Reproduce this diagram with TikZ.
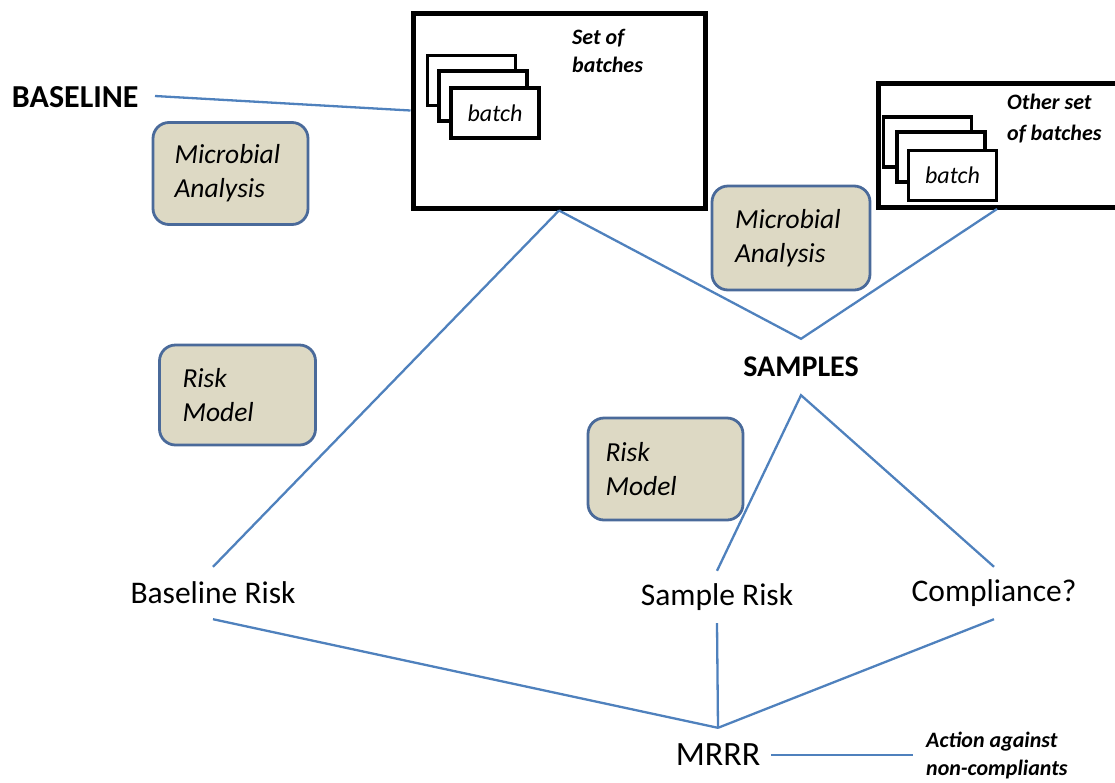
\documentclass[tikz,border=0pt]{standalone}
\usepackage{fontspec}
\setmainfont{Carlito}
\definecolor{linkblue}{HTML}{4F81BD}
\definecolor{stepfill}{HTML}{DDD9C4}
\definecolor{stepedge}{HTML}{4A6A9A}
\begin{document}
\begin{tikzpicture}[x=1pt,y=-1pt,
  link/.style={draw=linkblue, line width=2.3pt},
  setbox/.style={draw=black, line width=5pt, fill=white, inner sep=0pt},
  batchbox/.style={draw=black, line width=3.6pt, fill=white, inner sep=0pt,
                   minimum width=88pt, minimum height=50pt},
  stepbox/.style={draw=stepedge, line width=2.8pt, fill=stepfill, rounded corners=16pt,
                  minimum width=155pt, minimum height=102pt, align=left,
                  font=\itshape\fontsize{27.5}{34}\selectfont},
  head/.style={inner sep=0pt, font=\bfseries\fontsize{32}{36}\selectfont},
  risklabel/.style={inner sep=0pt, minimum height=52pt, font=\fontsize{31.5}{36}\selectfont},
  note/.style={inner sep=0pt, align=left, font=\bfseries\itshape\fontsize{22}{28}\selectfont},
  batchtext/.style={inner sep=0pt, font=\itshape\fontsize{24}{28}\selectfont}
]
\useasboundingbox (0,0) rectangle (1115,782);
\clip (0,0) rectangle (1115,782);

% ---- text nodes
\node[head, anchor=west, outer sep=0pt, inner xsep=0pt] (baseline) at (12,97) {BASELINE};
\coordinate (blfoot) at (155,96);
\node[head, font=\bfseries\fontsize{30}{34}\selectfont, minimum height=56pt] (samples) at (801,367) {SAMPLES};
\node[risklabel] (brisk) at (213,593) {Baseline Risk};
\node[risklabel] (srisk) at (717,597) {Sample Risk};
\node[risklabel] (comp) at (994,593) {Compliance?};
\node[risklabel, minimum height=54pt, minimum width=106pt, font=\fontsize{34}{38}\selectfont] (mrrr) at (718,755) {MRRR};
\node[note, anchor=west, inner xsep=13pt] (action) at (913,755) {Action against\\non-compliants};

% ---- set of batches boxes
\node[setbox, minimum width=292pt, minimum height=195pt] (set1) at (559,110.5) {};
\node[batchbox] (b1a) at (471.5,80.5) {};
\node[batchbox] (b1b) at (483,96) {};
\node[batchbox] (b1c) at (495,113) {};
\node[batchtext] at (b1c) {batch};
\node[note, anchor=west] (set1note) at (572,51) {Set of\\batches};

\draw[setbox] (878,83) rectangle (1130,207);
\coordinate (set2foot) at (997,209);
\node[batchbox] (b2a) at (927.5,142) {};
\node[batchbox] (b2b) at (941,157) {};
\node[batchbox] (b2c) at (952.5,175.5) {};
\node[batchtext] at (b2c) {batch};
\node[note, anchor=west, font=\bfseries\itshape\fontsize{22}{31}\selectfont] (set2note) at (1007,119) {Other set\\of batches};

% ---- connectors
\draw[link] (blfoot) -- (set1.west);
\draw[link] (set1.south) -- (brisk.north);
\draw[link] (set1.south) -- (samples.north) -- (set2foot);
\draw[link] (srisk.north) -- (samples.south) -- (comp.north);
\draw[link] (brisk.south) -- (mrrr.north);
\draw[link] (srisk.south) -- (mrrr.north);
\draw[link] (comp.south) -- (mrrr.north);
\draw[link] (mrrr.east) -- (action.west);

% ---- analysis and model steps
\node[stepbox, text width=112pt, inner xsep=21pt] (ma1) at (230.5,173.5) {Microbial\\Analysis};
\node[stepbox, text width=112pt, inner xsep=23pt, minimum width=154pt, minimum height=104pt] (ma2) at (791,238) {Microbial\\Analysis};
\node[stepbox, text width=110pt, inner xsep=23pt, minimum height=100pt] (rm1) at (237.5,395) {Risk\\Model};
\node[stepbox, text width=120pt, inner xsep=17pt] (rm2) at (665.5,469) {Risk\\Model};
\end{tikzpicture}
\end{document}
